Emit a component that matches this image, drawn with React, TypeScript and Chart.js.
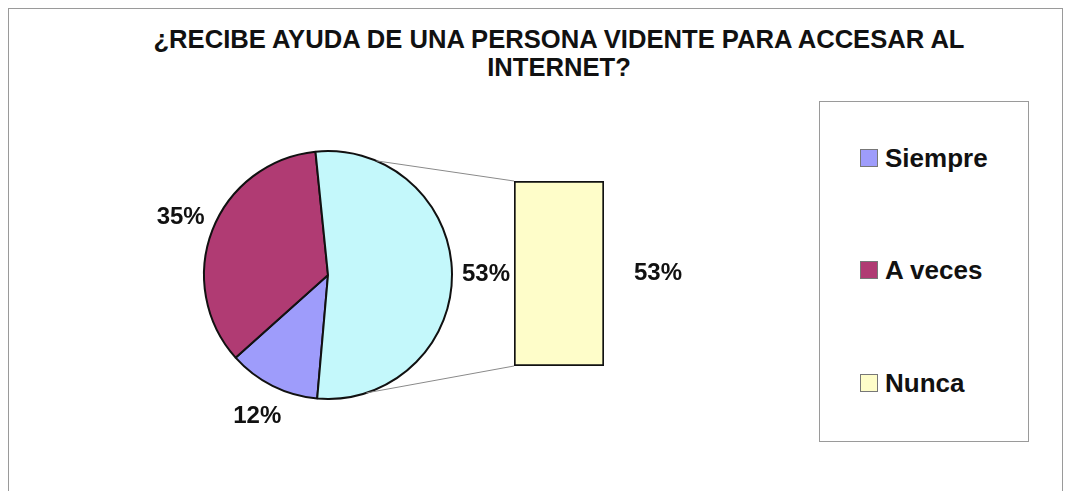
import React, { useEffect, useRef } from 'react';
import { Chart, registerables } from 'chart.js';

Chart.register(...registerables);

const titleLines = ['¿RECIBE AYUDA DE UNA PERSONA VIDENTE PARA ACCESAR AL', 'INTERNET?'];
const categories = ['Siempre', 'A veces', 'Nunca'];
const pieValues = [12, 35, 53];
const pieColors = ['#9E9CFB', '#B03B73', '#C4F8FB'];
const legendColors = ['#9E9CFB', '#B03B73', '#FEFDC9'];
const barLabels = ['Nunca'];
const barValues = [53];
const barColor = '#FEFDC9';

const FONT = '"Liberation Sans", Arial, Helvetica, sans-serif';
const W = 1053;
const H = 482;
const CONNECTOR_ANGLES = [23, 162]; // degrees clockwise from top

export default function App() {
  const pieRef = useRef<HTMLCanvasElement | null>(null);
  const barRef = useRef<HTMLCanvasElement | null>(null);

  useEffect(() => {
    if (!pieRef.current || !barRef.current) return;

    const pieLabelPlugin = {
      id: 'pieLabels',
      afterDraw(chart: any) {
        const ctx = chart.ctx;
        const meta = chart.getDatasetMeta(0);
        ctx.save();
        ctx.font = `bold 24px ${FONT}`;
        ctx.fillStyle = '#111';
        ctx.textAlign = 'center';
        ctx.textBaseline = 'middle';
        meta.data.forEach((arc: any, i: number) => {
          const mid = (arc.startAngle + arc.endAngle) / 2;
          const d = arc.outerRadius + 34;
          ctx.fillText(`${pieValues[i]}%`, arc.x + Math.cos(mid) * d, arc.y + Math.sin(mid) * d);
        });
        ctx.restore();
      },
    };

    const pieChart = new Chart(pieRef.current, {
      type: 'pie',
      data: {
        labels: categories,
        datasets: [
          {
            data: pieValues,
            backgroundColor: pieColors,
            borderColor: '#111',
            borderWidth: 2,
          },
        ],
      },
      options: {
        responsive: false,
        animation: false,
        devicePixelRatio: 1,
        rotation: 185,
        layout: { padding: { left: 194, right: 609, top: 141, bottom: 91 } },
        plugins: {
          legend: { display: false },
          tooltip: { enabled: false },
          title: { display: false },
        },
      },
      plugins: [pieLabelPlugin],
    });

    const barExtrasPlugin = {
      id: 'barExtras',
      afterDraw(chart: any) {
        const ctx = chart.ctx;
        const bar = chart.getDatasetMeta(0).data[0];
        const left = bar.x - bar.width / 2;
        const right = bar.x + bar.width / 2;
        const top = bar.y;
        const bottom = bar.base;
        const arc: any = pieChart.getDatasetMeta(0).data[2];
        const pts = CONNECTOR_ANGLES.map((deg) => {
          const a = ((deg - 90) * Math.PI) / 180;
          return [arc.x + Math.cos(a) * arc.outerRadius, arc.y + Math.sin(a) * arc.outerRadius];
        });
        ctx.save();
        ctx.strokeStyle = '#8a8a8a';
        ctx.lineWidth = 1;
        ctx.beginPath();
        ctx.moveTo(pts[0][0], pts[0][1]);
        ctx.lineTo(left, top);
        ctx.moveTo(pts[1][0], pts[1][1]);
        ctx.lineTo(left, bottom);
        ctx.stroke();
        ctx.font = `bold 24px ${FONT}`;
        ctx.fillStyle = '#111';
        ctx.textAlign = 'center';
        ctx.textBaseline = 'middle';
        ctx.fillText(`${barValues[0]}%`, right + 54, (top + bottom) / 2);
        ctx.restore();
      },
    };

    const barChart = new Chart(barRef.current, {
      type: 'bar',
      data: {
        labels: barLabels,
        datasets: [
          {
            data: barValues,
            backgroundColor: barColor,
            borderColor: '#111',
            borderWidth: 2,
            borderSkipped: false,
            barPercentage: 1,
            categoryPercentage: 1,
          },
        ],
      },
      options: {
        responsive: false,
        animation: false,
        devicePixelRatio: 1,
        layout: { padding: { left: 505, right: 458, top: 172, bottom: 125 } },
        scales: {
          x: { display: false },
          y: { display: false, min: 0, max: Math.max(...barValues) },
        },
        plugins: {
          legend: { display: false },
          tooltip: { enabled: false },
          title: { display: false },
        },
      },
      plugins: [barExtrasPlugin],
    });

    return () => {
      barChart.destroy();
      pieChart.destroy();
    };
  }, []);

  const legendCenters = [56, 168, 281];

  return (
    <div
      style={{
        position: 'relative',
        width: 1055,
        height: 483,
        boxSizing: 'border-box',
        borderTop: '1px solid #9a9a9a',
        borderLeft: '1px solid #9a9a9a',
        borderRight: '1px solid #9a9a9a',
        background: '#fff',
        fontFamily: FONT,
        color: '#111',
      }}
    >
      <div
        style={{
          position: 'absolute',
          left: 50,
          top: 16,
          width: 1000,
          textAlign: 'center',
          fontWeight: 'bold',
          fontSize: 25.6,
          lineHeight: '28px',
          whiteSpace: 'nowrap',
        }}
      >
        {titleLines.map((t, i) => (
          <div key={i}>{t}</div>
        ))}
      </div>
      <canvas
        ref={pieRef}
        width={W}
        height={H}
        style={{ position: 'absolute', left: 0, top: 0, width: W, height: H }}
      />
      <canvas
        ref={barRef}
        width={W}
        height={H}
        style={{ position: 'absolute', left: 0, top: 0, width: W, height: H }}
      />
      <div
        style={{
          position: 'absolute',
          left: 810,
          top: 92,
          width: 210,
          height: 341,
          boxSizing: 'border-box',
          border: '1px solid #9a9a9a',
          background: '#fff',
        }}
      >
        {categories.map((c, i) => (
          <div
            key={c}
            style={{
              position: 'absolute',
              left: 40,
              top: legendCenters[i] - 15,
              height: 30,
              display: 'flex',
              alignItems: 'center',
              whiteSpace: 'nowrap',
            }}
          >
            <span
              style={{
                display: 'inline-block',
                width: 18,
                height: 18,
                boxSizing: 'border-box',
                border: '1px solid #777',
                background: legendColors[i],
                marginRight: 7,
              }}
            />
            <span style={{ fontWeight: 'bold', fontSize: 26 }}>{c}</span>
          </div>
        ))}
      </div>
    </div>
  );
}
